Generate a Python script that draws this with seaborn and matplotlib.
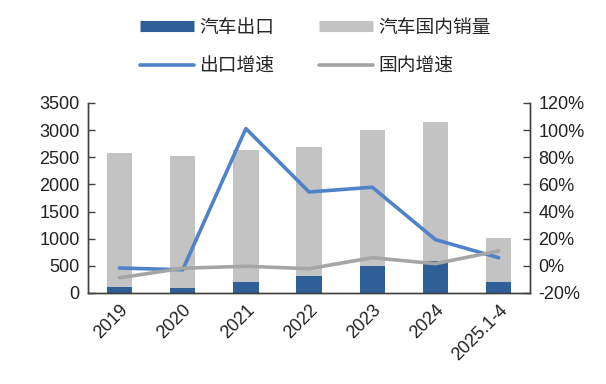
import numpy as np
import pandas as pd
import matplotlib
matplotlib.use("Agg")
import matplotlib.pyplot as plt
from matplotlib.lines import Line2D
import seaborn as sns

# 数据（万辆 / %）
anos = ["2019", "2020", "2021", "2022", "2023", "2024", "2025.1-4"]
exportacao = [102, 100, 202, 311, 491, 586, 194]
domestico = [2475, 2431, 2426, 2375, 2518, 2558, 812]
cresc_export = [-1.6, -2.9, 101.1, 54.4, 57.9, 19.3, 6.0]
cresc_domest = [-8.8, -1.8, -0.3, -2.1, 6.0, 1.6, 11.0]

df = pd.DataFrame({
    "ano": anos,
    "pos": np.arange(len(anos)),
    "export": exportacao,
    "total": np.array(exportacao) + np.array(domestico),
    "g_exp": cresc_export,
    "g_dom": cresc_domest,
})

sns.set_theme(style="white")
plt.rcParams["font.family"] = ["Liberation Sans", "Noto Sans CJK SC", "DejaVu Sans"]

AZUL_ESC = "#2F5F97"
CINZA_BAR = "#C3C3C3"
AZUL_LIN = "#4F82C9"
CINZA_LIN = "#A5A5A5"

fig = plt.figure(figsize=(6.06, 3.84), dpi=100)
ax = fig.add_axes([0.145, 0.237, 0.730, 0.495])

# barras empilhadas: total (cinza) por trás, exportação (azul) na base
sns.barplot(data=df, x="pos", y="total", color=CINZA_BAR, width=0.4,
            saturation=1, linewidth=0, ax=ax, native_scale=True)
sns.barplot(data=df, x="pos", y="export", color=AZUL_ESC, width=0.4,
            saturation=1, linewidth=0, ax=ax, native_scale=True)

ax2 = ax.twinx()
sns.lineplot(data=df, x="pos", y="g_exp", color=AZUL_LIN, lw=2.6, ax=ax2)
sns.lineplot(data=df, x="pos", y="g_dom", color=CINZA_LIN, lw=2.6, ax=ax2)

ax.set_xlim(-0.5, 6.5)
ax.set_ylim(0, 3500)
ax.set_yticks(range(0, 3501, 500))
ax2.set_ylim(-20, 120)
ax2.set_yticks(range(-20, 121, 20))
ax2.set_yticklabels([f"{v}%" for v in range(-20, 121, 20)])

ax.set_xticks(df["pos"])
ax.set_xticklabels(anos, rotation=45, ha="right", rotation_mode="anchor")
ax.set_xticks(np.arange(0.5, 6, 1), minor=True)
ax.set_xlabel("")
ax.set_ylabel("")
ax2.set_xlabel("")
ax2.set_ylabel("")

for a in (ax, ax2):
    a.grid(False)
    a.spines["top"].set_visible(False)
    for s in ("left", "right", "bottom"):
        a.spines[s].set_color("#404040")
        a.spines[s].set_linewidth(1.0)

ax.tick_params(axis="x", which="major", length=0, labelsize=13, pad=6, colors="#222222")
ax.tick_params(axis="x", which="minor", direction="in", length=5, width=1, color="#404040")
ax.tick_params(axis="y", direction="in", length=5, width=1, labelsize=13,
               color="#404040", labelcolor="#222222", pad=6)
ax2.tick_params(axis="y", direction="in", length=5, width=1, labelsize=13,
                color="#404040", labelcolor="#222222", pad=6)

# legenda preenchida por coluna: col1 = exportação, col2 = doméstico
handles = [
    Line2D([], [], color=AZUL_ESC, lw=8, solid_capstyle="butt"),
    Line2D([], [], color=AZUL_LIN, lw=2.6),
    Line2D([], [], color=CINZA_BAR, lw=8, solid_capstyle="butt"),
    Line2D([], [], color=CINZA_LIN, lw=2.6),
]
labels = ["汽车出口", "出口增速", "汽车国内销量", "国内增速"]
fig.legend(handles, labels, ncol=2, loc="upper center", bbox_to_anchor=(0.52, 1.0),
           frameon=False, handlelength=2.9, handletextpad=0.25, columnspacing=2.4,
           labelspacing=0.95,
           prop={"family": ["Noto Sans CJK SC", "DejaVu Sans"], "size": 13.5})

fig.savefig("out.png", dpi=100)
